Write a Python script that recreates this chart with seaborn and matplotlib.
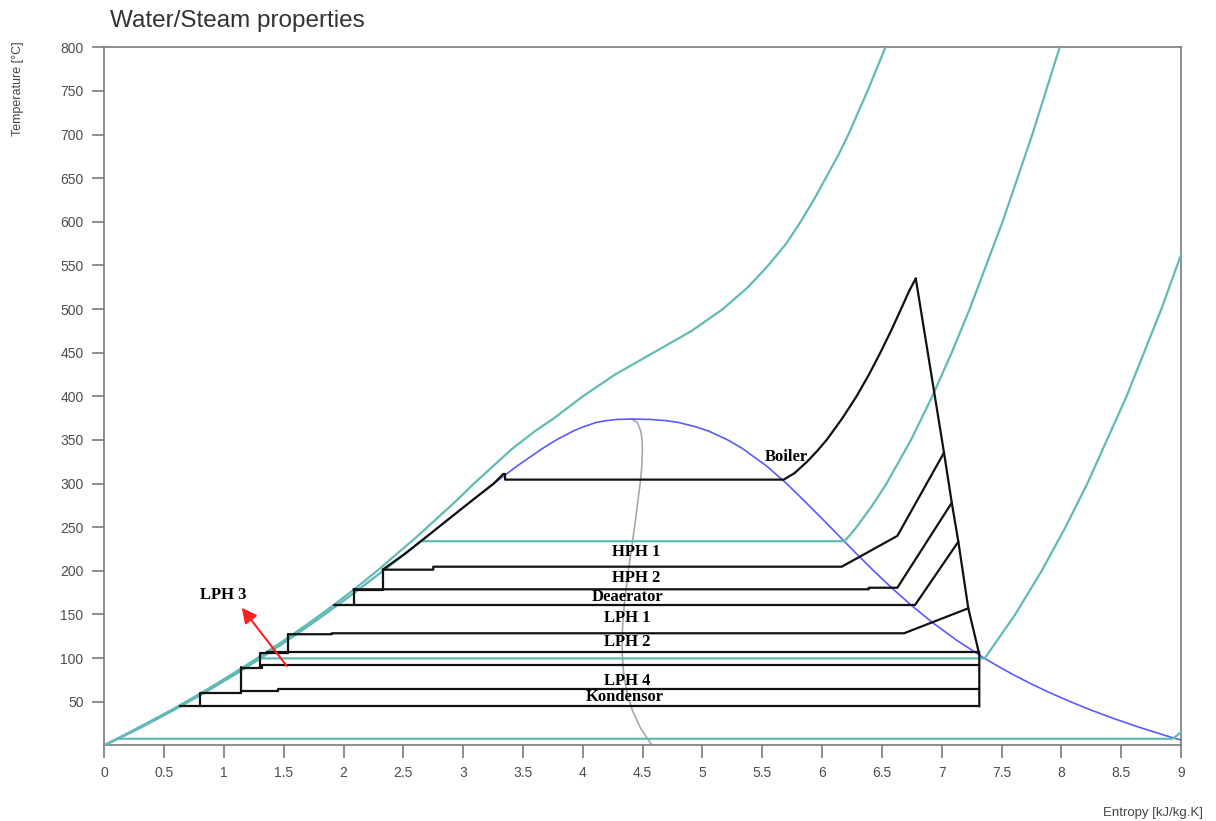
import matplotlib
matplotlib.use("Agg")
import matplotlib.pyplot as plt
import seaborn as sns

# ---------------------------------------------------------------- data
# saturation dome (T in degC, s in kJ/kg.K)
sat_T = [0.01, 10, 20, 30, 40, 50, 60, 70, 80, 90, 100, 120, 140, 160, 180,
         200, 220, 240, 260, 280, 300, 320, 340, 350, 360, 365, 370, 372,
         373.5, 373.95]
sat_s_liq = [0.0, 0.1511, 0.2965, 0.4368, 0.5724, 0.7038, 0.8313, 0.9551,
             1.0756, 1.1929, 1.3072, 1.5279, 1.7392, 1.9426, 2.1392, 2.3305,
             2.5177, 2.7020, 2.8849, 3.0685, 3.2552, 3.4494, 3.6601, 3.7784,
             3.9167, 4.0040, 4.1112, 4.1900, 4.2900, 4.4070]
sat_s_vap = [9.155, 8.899, 8.666, 8.452, 8.255, 8.075, 7.908, 7.754, 7.611,
             7.478, 7.354, 7.129, 6.929, 6.750, 6.585, 6.431, 6.284, 6.141,
             5.998, 5.852, 5.703, 5.537, 5.336, 5.211, 5.054, 4.945, 4.800,
             4.700, 4.560, 4.407]

# quality x = 0.5 line
q50_T = [0.01, 20, 40, 60, 80, 100, 120, 140, 160, 180, 200, 220, 240, 260,
         280, 300, 320, 340, 350, 360, 370, 373.95]
q50_s = [4.578, 4.481, 4.414, 4.370, 4.343, 4.331, 4.328, 4.334, 4.346,
         4.362, 4.381, 4.401, 4.422, 4.442, 4.460, 4.479, 4.493, 4.498,
         4.495, 4.485, 4.456, 4.407]

# isobars
p500_T = [0, 20, 40, 60, 80, 100, 120, 140, 160, 180, 200, 220, 240, 260, 280,
          300, 320, 340, 360, 375, 400, 425, 450, 475, 500, 525, 550, 575,
          600, 625, 650, 675, 700, 750, 800]
p500_s = [0.0, 0.28, 0.555, 0.81, 1.05, 1.28, 1.50, 1.71, 1.91, 2.10, 2.28,
          2.45, 2.62, 2.78, 2.94, 3.09, 3.25, 3.41, 3.60, 3.76, 4.00, 4.27,
          4.59, 4.91, 5.17, 5.38, 5.55, 5.70, 5.82, 5.93, 6.03, 6.13, 6.22,
          6.38, 6.53]

p30_T = [0.01, 20, 40, 60, 80, 100, 120, 140, 160, 180, 200, 220, 233.9,
         233.9, 240, 250, 275, 300, 350, 400, 450, 500, 600, 700, 800]
p30_s = [0.0, 0.2965, 0.5724, 0.8313, 1.0756, 1.3072, 1.5279, 1.7392, 1.9426,
         2.1392, 2.3305, 2.5177, 2.6457, 6.1869, 6.2270, 6.2872, 6.4200,
         6.5389, 6.7428, 6.9212, 7.0834, 7.2338, 7.5085, 7.7571, 7.9862]

p1_T = [0.01, 20, 40, 60, 80, 99.6, 99.6, 150, 200, 250, 300, 400, 500, 600]
p1_s = [0.0, 0.2965, 0.5724, 0.8313, 1.0756, 1.3028, 7.3589, 7.6148, 7.8356,
        8.0346, 8.2171, 8.5452, 8.8362, 9.0999]

plow_T = [0.0, 7.5, 7.5, 17.0]
plow_s = [0.0, 0.11, 8.93, 9.02]

# power cycle
turbine_s = [6.783, 7.019, 7.084, 7.139, 7.222, 7.310, 7.314, 7.314]
turbine_T = [535.0, 335.4, 278.0, 233.4, 157.0, 106.6, 106.6, 44.5]

boiler_s = [2.327, 2.5177, 2.7020, 2.8849, 3.0685, 3.2552, 3.335, 3.35, 3.35,
            5.679, 5.770, 5.874, 5.960, 6.038, 6.170, 6.288, 6.392, 6.487,
            6.576, 6.660, 6.725, 6.783]
boiler_T = [201.3, 220, 240, 260, 280, 300, 311, 311, 304.5,
            304.5, 312, 325, 337.5, 350, 375, 400, 425, 450, 475, 500, 520,
            535]

hph1_s = [2.327, 2.75, 2.75, 6.164, 6.629, 7.019]
hph1_T = [201.3, 201.3, 204.7, 204.7, 240.0, 335.4]
hph1_drain_s = [2.327, 2.327, 2.10]
hph1_drain_T = [201.3, 177.5, 177.5]

hph2_s = [2.083, 6.39, 6.39, 6.629, 7.084]
hph2_T = [178.8, 178.8, 180.6, 180.6, 278.0]
hph2_drain_s = [2.083, 2.083]
hph2_drain_T = [178.8, 160.8]

dea_s = [1.92, 6.777, 7.139]
dea_T = [160.8, 160.8, 233.4]

lph1_s = [1.538, 1.90, 1.90, 6.685, 7.222]
lph1_T = [127.3, 127.3, 128.4, 128.4, 157.0]
lph1_drain_s = [1.538, 1.538, 1.30, 1.30]
lph1_drain_T = [127.3, 105.4, 105.4, 88.5]

lph2_s = [1.36, 7.310]
lph2_T = [106.6, 106.6]

lph3_s = [1.143, 1.32, 1.32, 7.314]
lph3_T = [88.5, 88.5, 92.0, 92.0]
lph3_drain_s = [1.143, 1.143, 0.80, 0.80]
lph3_drain_T = [90.0, 60.5, 60.5, 44.5]

lph4_s = [1.143, 1.45, 1.45, 7.314]
lph4_T = [62.0, 62.0, 64.0, 64.0]

kond_s = [0.634, 7.314]
kond_T = [44.5, 44.5]

# component labels
label_names = ["Boiler", "HPH 1", "HPH 2", "Deaerator", "LPH 1", "LPH 2",
               "LPH 4", "Kondensor", "LPH 3"]
label_s = [5.704, 4.445, 4.445, 4.377, 4.368, 4.368, 4.368, 4.352, 0.99]
label_T = [330.8, 221.5, 191.7, 170.0, 145.9, 118.4, 73.7, 55.4, 172.3]

arrow_from = (1.525, 90.9)
arrow_to = (1.149, 157.7)

x_ticks = [0, 0.5, 1, 1.5, 2, 2.5, 3, 3.5, 4, 4.5, 5, 5.5, 6, 6.5, 7, 7.5, 8,
           8.5, 9]
y_ticks = list(range(50, 801, 50))

# ---------------------------------------------------------------- style
sns.set_style("white")
plt.rcParams["font.family"] = ["Liberation Sans", "DejaVu Sans"]

fig = plt.figure(figsize=(12.16, 8.21), dpi=100)
ax = fig.add_axes([0.0858, 0.0922, 0.8854, 0.8502])

CYAN = "#62bab4"
BLUE = "#5a5aff"
GREY = "#a8a8a8"
BLACK = "#111111"


def draw(xs, ys, color, lw, z):
    sns.lineplot(x=xs, y=ys, sort=False, estimator=None, color=color,
                 linewidth=lw, ax=ax, legend=False, zorder=z)


# quality line and saturation dome
draw(q50_s, q50_T, GREY, 1.2, 2)
draw(sat_s_liq + sat_s_vap[::-1], sat_T + sat_T[::-1], BLUE, 1.2, 3)

# isobars
for s_vals, t_vals in [(p500_s, p500_T), (p30_s, p30_T), (p1_s, p1_T),
                       (plow_s, plow_T)]:
    draw(s_vals, t_vals, CYAN, 1.6, 4)

# cycle lines
for s_vals, t_vals in [(turbine_s, turbine_T), (boiler_s, boiler_T),
                       (hph1_s, hph1_T), (hph1_drain_s, hph1_drain_T),
                       (hph2_s, hph2_T), (hph2_drain_s, hph2_drain_T),
                       (dea_s, dea_T), (lph1_s, lph1_T),
                       (lph1_drain_s, lph1_drain_T), (lph2_s, lph2_T),
                       (lph3_s, lph3_T), (lph3_drain_s, lph3_drain_T),
                       (lph4_s, lph4_T), (kond_s, kond_T)]:
    draw(s_vals, t_vals, BLACK, 1.6, 5)

for name, sx, ty in zip(label_names, label_s, label_T):
    ax.text(sx, ty, name, ha="center", va="center", fontsize=12,
            fontweight="bold", family="Liberation Serif", color="black",
            zorder=6)

ax.annotate("", xy=arrow_to, xytext=arrow_from,
            arrowprops=dict(arrowstyle="-|>,head_length=0.9,head_width=0.45",
                            color="#ff2020", lw=1.5, shrinkA=0, shrinkB=0),
            zorder=6)

# axes
ax.set_xlim(0, 9)
ax.set_ylim(0, 800)
ax.set_xticks(x_ticks)
ax.set_xticklabels([f"{v:g}" for v in x_ticks])
ax.set_yticks(y_ticks)
ax.set_yticklabels([str(v) for v in y_ticks])
ax.set_xlabel("")
ax.set_ylabel("")
for sp in ax.spines.values():
    sp.set_visible(True)
    sp.set_color("#7a7a7a")
    sp.set_linewidth(1.2)
ax.tick_params(axis="both", which="major", direction="out", length=9,
               width=1.2, color="#7a7a7a", labelsize=10, labelcolor="#4d4d4d",
               pad=6)
ax.tick_params(axis="x", bottom=True)
ax.tick_params(axis="y", left=True)

fig.text(0.0905, 0.974, "Water/Steam properties", fontsize=17.5,
         color="#333333", ha="left", va="center")
fig.text(0.0148, 0.8916, "Temperature [°C]", fontsize=9, color="#444444",
         rotation=90, ha="center", va="center")
fig.text(0.989, 0.0098, "Entropy [kJ/kg.K]", fontsize=9.5, color="#444444",
         ha="right", va="center")

fig.savefig("out.png", dpi=100)
